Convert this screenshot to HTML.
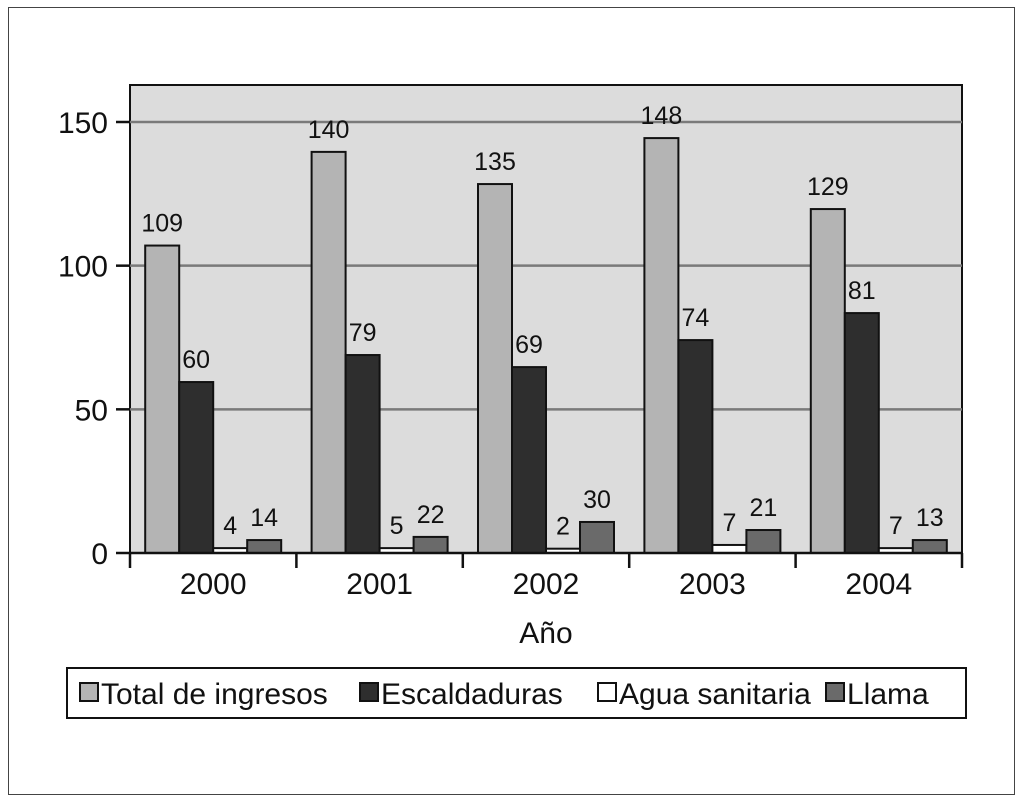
<!DOCTYPE html>
<html><head><meta charset="utf-8">
<style>
body{margin:0;background:#fff;}
svg text{font-family:"Liberation Sans",sans-serif;fill:#111;}
</style></head>
<body>
<svg id="chart" width="1024" height="804" xmlns="http://www.w3.org/2000/svg">
<rect x="8.5" y="7.5" width="1006" height="787" fill="#fff" stroke="#444" stroke-width="1"/>
<g id="plot"></g>
</svg>
<script>
const years = ["2000","2001","2002","2003","2004"];
const seriesNames = ["Total de ingresos","Escaldaduras","Agua sanitaria","Llama"];
const totalValues = [107, 139.6, 128.4, 144.4, 119.7];
const escaldValues = [59.5, 68.9, 64.7, 74.1, 83.5];
const aguaValues = [1.7, 1.7, 1.5, 2.8, 1.7];
const llamaValues = [4.5, 5.6, 10.8, 8, 4.5];
const totalLabels = ["109","140","135","148","129"];
const escaldLabels = ["60","79","69","74","81"];
const aguaLabels = ["4","5","2","7","7"];
const llamaLabels = ["14","22","30","21","13"];
const yTicks = [0, 50, 100, 150];

const NS = "http://www.w3.org/2000/svg";
const g = document.getElementById("plot");
const L = 130, R = 962, T = 85, B = 553;
const y = v => B - v * (B - 122) / 150;
const groupW = (R - L) / years.length;
const barW = 34;
const fills = ["#b4b4b4", "#2e2e2e", "#ffffff", "#6a6a6a"];
const names = ["total","escaldaduras","agua-sanitaria","llama"];
const allVals = [totalValues, escaldValues, aguaValues, llamaValues];
const allLabels = [totalLabels, escaldLabels, aguaLabels, llamaLabels];
function el(tag, attrs, text) {
  const e = document.createElementNS(NS, tag);
  for (const k in attrs) e.setAttribute(k, attrs[k]);
  if (text !== undefined) e.textContent = text;
  g.appendChild(e);
  return e;
}
let e = el("rect", {x: L, y: T, width: R - L, height: B - T, fill: "#dcdcdc", stroke: "#111", "stroke-width": 2});


yTicks.forEach(t => {
  if (t > 0) {
    const gl = el("line", {x1: L, x2: R, y1: y(t), y2: y(t), stroke: "#7a7a7a", "stroke-width": 2.5});
    
    
  }
  const tk = el("line", {x1: L - 14, x2: L, y1: y(t), y2: y(t), stroke: "#111", "stroke-width": 2.5});
  
  
  const tl = el("text", {x: L - 22, y: y(t) + 11, "text-anchor": "end", "font-size": 30}, t);
  
  
});
years.forEach((yr, i) => {
  const gx = L + i * groupW;
  const start = gx + (groupW - 4 * barW) / 2;
  allVals.forEach((vals, s) => {
    const bx = start + s * barW;
    const b = el("rect", {x: bx, y: y(vals[i]), width: barW, height: B - y(vals[i]), fill: fills[s], stroke: "#111", "stroke-width": 2});
    
    
    const lab = el("text", {x: bx + barW / 2, y: y(vals[i]) - 14, "text-anchor": "middle", "font-size": 25}, allLabels[s][i]);
    
    
  });
  const xl = el("text", {x: gx + groupW / 2, y: 594, "text-anchor": "middle", "font-size": 30}, yr);
  
  
});
for (let i = 0; i <= years.length; i++) {
  const tk = el("line", {x1: L + i * groupW, x2: L + i * groupW, y1: B, y2: B + 15, stroke: "#111", "stroke-width": 2.5});
  
  
}
e = el("line", {x1: L, x2: R, y1: B, y2: B, stroke: "#111", "stroke-width": 2.5});


e = el("text", {x: (L + R) / 2, y: 643, "text-anchor": "middle", "font-size": 30}, "Año");


e = el("rect", {x: 67, y: 668, width: 899, height: 50, fill: "#fff", stroke: "#111", "stroke-width": 2});


const legX = [80, 360, 598, 826];
seriesNames.forEach((n, s) => {
  const sw = el("rect", {x: legX[s], y: 683, width: 18, height: 18, fill: fills[s], stroke: "#111", "stroke-width": 2});
  
  
  const t = el("text", {x: legX[s] + 21, y: 704, "font-size": 30}, n);
  
  
});
</script>
</body></html>
